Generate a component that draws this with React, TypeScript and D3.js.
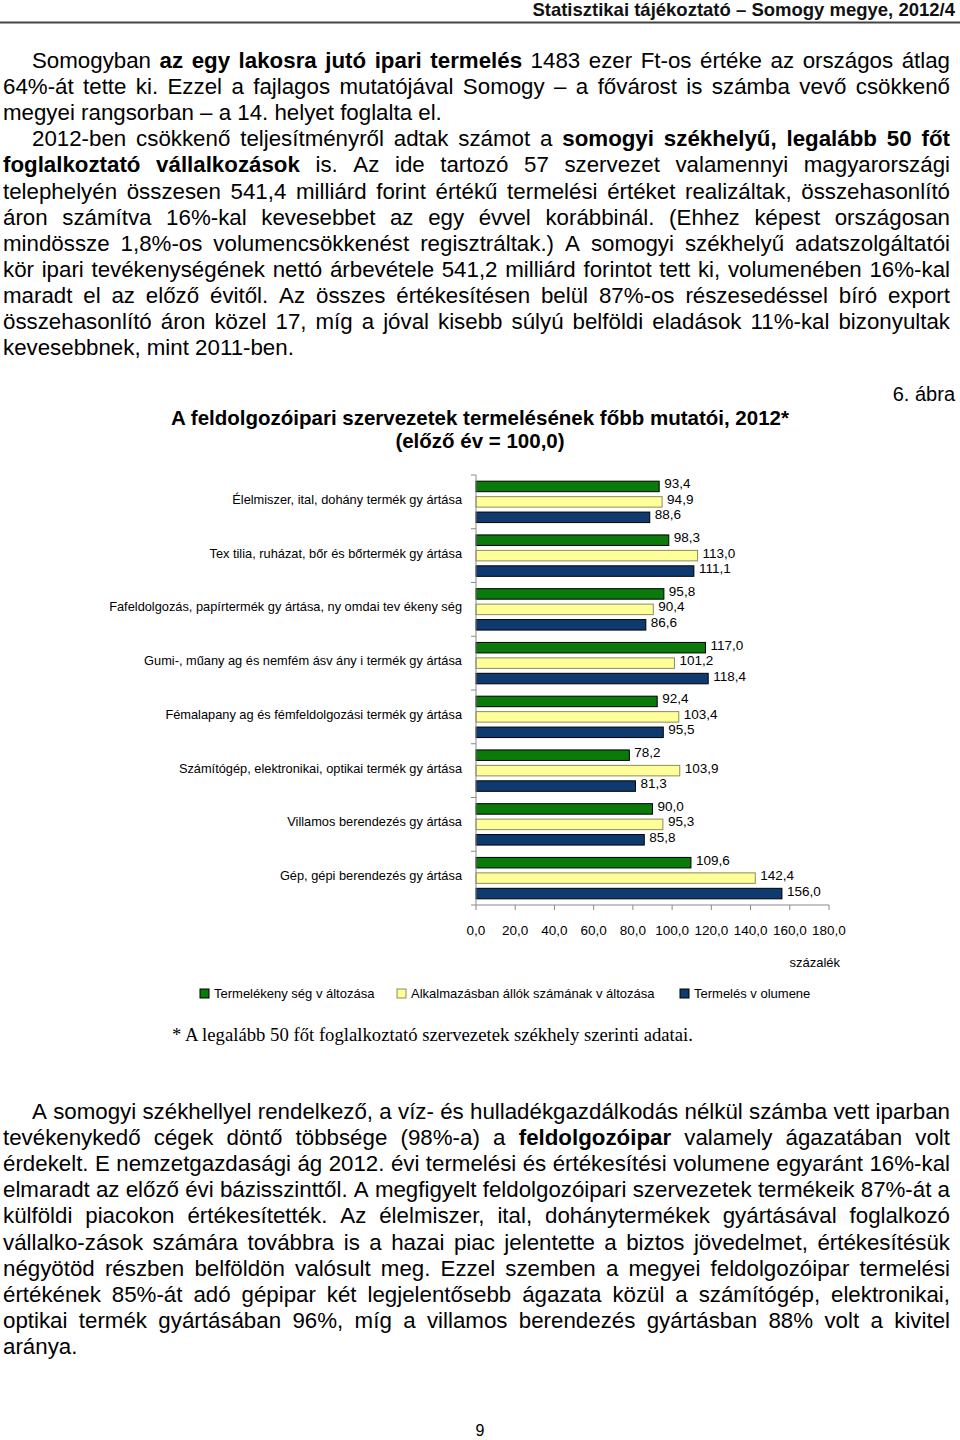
import React, { useMemo } from 'react';
import * as d3 from 'd3';

// ---------- DATA ----------
const categories = [
  'Élelmiszer, ital, dohány termék gy ártása',
  'Tex tilia, ruházat, bőr és bőrtermék gy ártása',
  'Fafeldolgozás, papírtermék gy ártása, ny omdai tev ékeny ség',
  'Gumi-, műany ag és nemfém ásv ány i termék gy ártása',
  'Fémalapany ag és fémfeldolgozási termék gy ártása',
  'Számítógép, elektronikai, optikai termék gy ártása',
  'Villamos berendezés gy ártása',
  'Gép, gépi berendezés gy ártása',
];
const productivity = [93.4, 98.3, 95.8, 117.0, 92.4, 78.2, 90.0, 109.6];
const employment = [94.9, 113.0, 90.4, 101.2, 103.4, 103.9, 95.3, 142.4];
const volume = [88.6, 111.1, 86.6, 118.4, 95.5, 81.3, 85.8, 156.0];
const seriesNames = [
  'Termelékeny ség v áltozása',
  'Alkalmazásban állók számának v áltozása',
  'Termelés v olumene',
];
const xTicks = [0, 20, 40, 60, 80, 100, 120, 140, 160, 180];

const headerText = 'Statisztikai tájékoztató – Somogy megye, 2012/4';
const titleLines = [
  'A feldolgozóipari szervezetek termelésének főbb mutatói, 2012*',
  '(előző év = 100,0)',
];
const figureLabel = '6. ábra';
const unitLabel = 'százalék';
const footnote = '* A legalább 50 főt foglalkoztató szervezetek székhely szerinti adatai.';
const pageNumber = '9';

const para1 = [
  'Somogyban **az egy lakosra jutó ipari termelés** 1483 ezer Ft-os értéke az országos átlag',
  '64%-át tette ki. Ezzel a fajlagos mutatójával Somogy – a fővárost is számba vevő csökkenő',
  'megyei rangsorban – a 14. helyet foglalta el.',
  '2012-ben csökkenő teljesítményről adtak számot a **somogyi székhelyű, legalább 50 főt**',
  '**foglalkoztató vállalkozások** is. Az ide tartozó 57 szervezet valamennyi magyarországi',
  'telephelyén összesen 541,4 milliárd forint értékű termelési értéket realizáltak, összehasonlító',
  'áron számítva 16%-kal kevesebbet az egy évvel korábbinál. (Ehhez képest országosan',
  'mindössze 1,8%-os volumencsökkenést regisztráltak.) A somogyi székhelyű adatszolgáltatói',
  'kör ipari tevékenységének nettó árbevétele 541,2 milliárd forintot tett ki, volumenében 16%-kal',
  'maradt el az előző évitől. Az összes értékesítésen belül 87%-os részesedéssel bíró export',
  'összehasonlító áron közel 17, míg a jóval kisebb súlyú belföldi eladások 11%-kal bizonyultak',
  'kevesebbnek, mint 2011-ben.',
];
const para1Indent = [0, 3];
const para1Last = [2, 11];

const para2 = [
  'A somogyi székhellyel rendelkező, a víz- és hulladékgazdálkodás nélkül számba vett iparban',
  'tevékenykedő cégek döntő többsége (98%-a) a **feldolgozóipar** valamely ágazatában volt',
  'érdekelt. E nemzetgazdasági ág 2012. évi termelési és értékesítési volumene egyaránt 16%-kal',
  'elmaradt az előző évi bázisszinttől. A megfigyelt feldolgozóipari szervezetek termékeik 87%-át a',
  'külföldi piacokon értékesítették. Az élelmiszer, ital, dohánytermékek gyártásával foglalkozó',
  'vállalko-zások számára továbbra is a hazai piac jelentette a biztos jövedelmet, értékesítésük',
  'négyötöd részben belföldön valósult meg. Ezzel szemben a megyei feldolgozóipar termelési',
  'értékének 85%-át adó gépipar két legjelentősebb ágazata közül a számítógép, elektronikai,',
  'optikai termék gyártásában 96%, míg a villamos berendezés gyártásban 88% volt a kivitel',
  'aránya.',
];
const para2Indent = [0];
const para2Last = [9];

// ---------- STYLE ----------
const SANS = '"Liberation Sans", Arial, sans-serif';
const SERIF = '"Liberation Serif", "Times New Roman", serif';
const colors = ['#0a7a0a', '#ffff99', '#0f3a70'];
const strokes = ['#000000', '#8c8c5a', '#000000'];
const BODY_SIZE = 22.3;

type Word = { text: string; bold: boolean; w: number; x: number };

function layoutLines(lines: string[], indents: number[], lasts: number[], top: number, step: number) {
  const canvas = document.createElement('canvas');
  const ctx = canvas.getContext('2d')!;
  const left = 3;
  const right = 950;
  const out: { y: number; words: Word[] }[] = [];
  lines.forEach((line, i) => {
    const segs = line.split('**');
    const words: Word[] = [];
    segs.forEach((seg, si) => {
      const bold = si % 2 === 1;
      seg.split(' ').filter((s) => s.length).forEach((t) => {
        ctx.font = `${bold ? 'bold ' : ''}${BODY_SIZE}px ${SANS}`;
        words.push({ text: t, bold, w: ctx.measureText(t).width, x: 0 });
      });
    });
    ctx.font = `${BODY_SIZE}px ${SANS}`;
    const spaceW = ctx.measureText(' ').width;
    const x0 = indents.includes(i) ? 32 : left;
    const sum = d3.sum(words, (w) => w.w);
    const gap = lasts.includes(i) || words.length < 2 ? spaceW : (right - x0 - sum) / (words.length - 1);
    let cx = x0;
    words.forEach((w) => {
      w.x = cx;
      cx += w.w + gap;
    });
    out.push({ y: top + step * i, words });
  });
  return out;
}

const fmt = (v: number) => d3.format('.1f')(v).replace('.', ',');

export default function App() {
  const body1 = useMemo(() => layoutLines(para1, para1Indent, para1Last, 68, 26.1), []);
  const body2 = useMemo(() => layoutLines(para2, para2Indent, para2Last, 1119, 26.1), []);

  const x = d3.scaleLinear().domain([0, 180]).range([476, 829]);
  const y = d3.scaleBand<string>().domain(categories).range([475, 905]).padding(0);
  const ySub = d3
    .scaleBand<string>()
    .domain(['0', '1', '2'])
    .range([0, y.bandwidth()])
    .paddingInner(0.32)
    .paddingOuter(0.4);
  const series = [productivity, employment, volume];
  const bandEdges = [...categories.map((c) => y(c)!), 905];
  const legendX = [200, 397, 680];

  const renderBody = (lines: { y: number; words: Word[] }[]) =>
    lines.map((l, i) => (
      <g key={i}>
        {l.words.map((w, j) => (
          <text key={j} x={w.x} y={l.y} fontFamily={SANS} fontSize={BODY_SIZE} fontWeight={w.bold ? 'bold' : 'normal'} fill="#000">
            {w.text}
          </text>
        ))}
      </g>
    ));

  return (
    <svg
      width={960}
      height={1440}
      style={{ position: 'absolute', left: 0, top: 0, display: 'block', background: '#fff' }}
    >
      <rect x={0} y={0} width={960} height={1440} fill="#fff" />
      {/* header */}
      <text x={955} y={16} textAnchor="end" fontFamily={SANS} fontSize={18.5} fontWeight="bold" fill="#111">
        {headerText}
      </text>
      <line x1={0} x2={960} y1={22.5} y2={22.5} stroke="#444" strokeWidth={2} />

      {renderBody(body1)}

      {/* chart title */}
      <text x={955} y={401} textAnchor="end" fontFamily={SANS} fontSize={20} fill="#000">
        {figureLabel}
      </text>
      {titleLines.map((t, i) => (
        <text key={i} x={480} y={425 + i * 23} textAnchor="middle" fontFamily={SANS} fontSize={20.5} fontWeight="bold" fill="#000">
          {t}
        </text>
      ))}

      {/* category labels */}
      {categories.map((c) => (
        <text key={c} x={462} y={y(c)! + y.bandwidth() / 2 + 2} textAnchor="end" fontFamily={SANS} fontSize={12.8} fill="#000">
          {c}
        </text>
      ))}

      {/* bars */}
      {series.map((vals, si) =>
        categories.map((c, ci) => {
          const by = y(c)! + ySub(String(si))!;
          const bh = ySub.bandwidth();
          return (
            <g key={`${si}-${ci}`}>
              <rect
                x={x(0)}
                y={by}
                width={x(vals[ci]) - x(0)}
                height={bh}
                fill={colors[si]}
                stroke={strokes[si]}
                strokeWidth={1}
              />
              <text x={x(vals[ci]) + 5} y={by + bh / 2 + 2} fontFamily={SANS} fontSize={13.5} fill="#000">
                {fmt(vals[ci])}
              </text>
            </g>
          );
        })
      )}

      {/* axes */}
      <line x1={x(0)} x2={x(0)} y1={475} y2={905} stroke="#8a8a8a" strokeWidth={1} />
      {bandEdges.map((e, i) => (
        <line key={i} x1={x(0) - 5} x2={x(0)} y1={e} y2={e} stroke="#8a8a8a" strokeWidth={1} />
      ))}
      <line x1={x(0)} x2={x(180)} y1={905} y2={905} stroke="#8a8a8a" strokeWidth={1} />
      {xTicks.map((t) => (
        <g key={t}>
          <line x1={x(t)} x2={x(t)} y1={905} y2={910} stroke="#8a8a8a" strokeWidth={1} />
          <text x={x(t)} y={935} textAnchor="middle" fontFamily={SANS} fontSize={13.5} fill="#000">
            {fmt(t)}
          </text>
        </g>
      ))}
      <text x={840} y={967} textAnchor="end" fontFamily={SANS} fontSize={13} fill="#000">
        {unitLabel}
      </text>

      {/* legend */}
      {seriesNames.map((n, i) => (
        <g key={n}>
          <rect x={legendX[i]} y={989} width={9} height={9} fill={colors[i]} stroke={strokes[i]} strokeWidth={1} />
          <text x={legendX[i] + 14} y={998} fontFamily={SANS} fontSize={13} fill="#000">
            {n}
          </text>
        </g>
      ))}

      <text x={172} y={1041} fontFamily={SERIF} fontSize={18.7} fill="#000">
        {footnote}
      </text>

      {renderBody(body2)}

      <text x={480} y={1436} textAnchor="middle" fontFamily={SANS} fontSize={16} fill="#000">
        {pageNumber}
      </text>
    </svg>
  );
}
